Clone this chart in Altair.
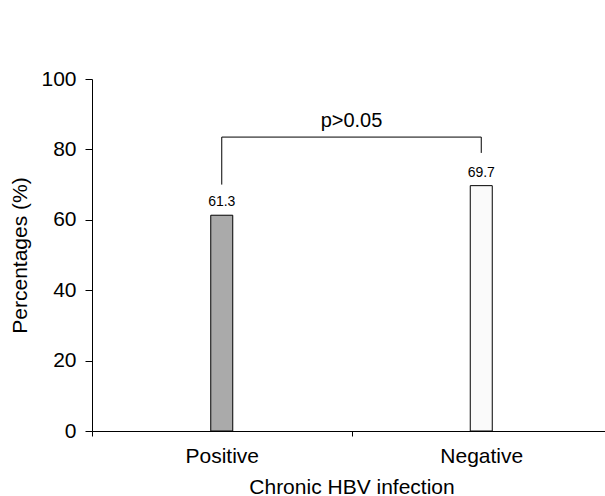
import altair as alt
import pandas as pd

categories = ["Positive", "Negative"]
percentages = [61.3, 69.7]
bar_colors = ["#aaaaaa", "#fafafa"]
p_label = "p>0.05"
bracket_top = 83.5
leg_bottoms = [70.0, 79.0]
p_label_y = 88.0

FONT = "Liberation Sans"

df = pd.DataFrame({
    "group": categories,
    "pct": percentages,
    "label": [f"{v:.1f}" for v in percentages],
    "leg_bottom": leg_bottoms,
    "top": [bracket_top] * 2,
})

xscale = alt.Scale(domain=categories, range=[0, 519], paddingInner=0, paddingOuter=0)
yscale = alt.Scale(domain=[0, 100])

x_enc = alt.X(
    "group:N", sort=categories, scale=xscale,
    axis=alt.Axis(
        title="Chronic HBV infection", labelAngle=0, tickBand="extent",
        labelFont=FONT, labelFontSize=21, labelColor="#000", labelPadding=9,
        titleFont=FONT, titleFontSize=21, titleFontWeight="normal", titleColor="#000",
        titlePadding=10, tickSize=5, tickColor="#000", domainColor="#000",
        grid=False,
    ),
)
y_enc = alt.Y(
    "pct:Q", scale=yscale,
    axis=alt.Axis(
        title="Percentages (%)", values=[0, 20, 40, 60, 80, 100],
        labelFont=FONT, labelFontSize=21, labelColor="#000", labelPadding=9,
        titleFont=FONT, titleFontSize=21, titleFontWeight="normal", titleColor="#000",
        titlePadding=10, tickSize=7, tickColor="#000", domainColor="#000",
        grid=False,
    ),
)

bars = alt.Chart(df).mark_bar(size=22, stroke="#000", strokeWidth=1).encode(
    x=x_enc,
    y=y_enc,
    color=alt.Color("group:N", scale=alt.Scale(domain=categories, range=bar_colors), legend=None),
)

labels = alt.Chart(df).mark_text(font=FONT, fontSize=14, baseline="bottom", dy=-6, color="#000").encode(
    x=alt.X("group:N", sort=categories),
    y="pct:Q",
    text="label:N",
)

legs = alt.Chart(df).mark_rule(color="#000", strokeWidth=1).encode(
    x=alt.X("group:N", sort=categories),
    y="leg_bottom:Q",
    y2="top:Q",
)

bracket_df = pd.DataFrame({"a": [categories[0]], "b": [categories[1]], "top": [bracket_top],
                           "ptxt": [p_label], "py": [p_label_y]})
horiz = alt.Chart(bracket_df).mark_rule(color="#000", strokeWidth=1).encode(
    x=alt.X("a:N"),
    x2="b:N",
    y="top:Q",
)
ptext = alt.Chart(bracket_df).mark_text(font=FONT, fontSize=20, baseline="middle", color="#000").encode(
    x=alt.X("a:N", bandPosition=1),
    y="py:Q",
    text="ptxt:N",
)

chart = alt.layer(bars, labels, legs, horiz, ptext).properties(
    width=513, height=352,
    autosize=alt.AutoSizeParams(type="none"),
    padding={"left": 92, "top": 79, "right": 0, "bottom": 65},
    background="white",
).configure_view(strokeWidth=0, stroke="transparent")

chart.save("out.html", embed_options={"renderer": "svg", "actions": False})
